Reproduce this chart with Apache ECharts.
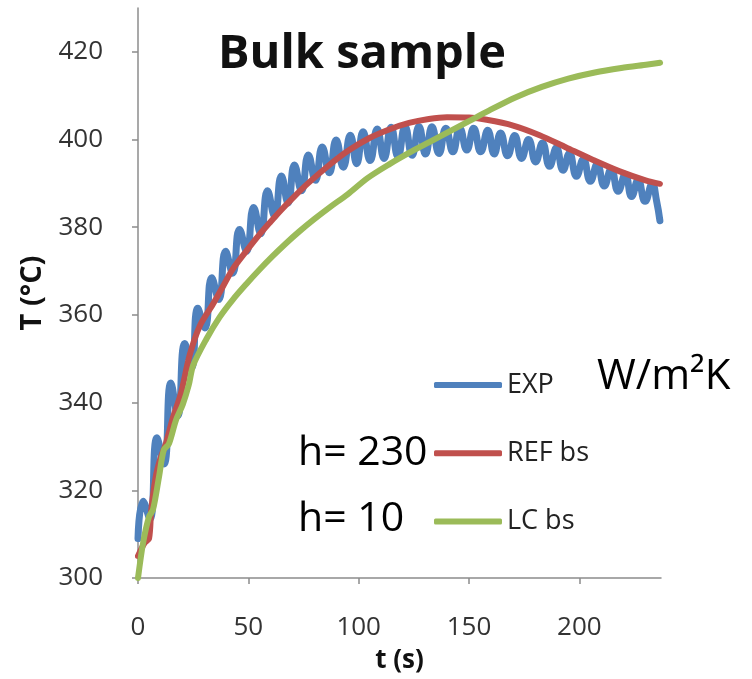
<!DOCTYPE html>
<html>
<head>
<meta charset="utf-8">
<script src="https://cdn.jsdelivr.net/npm/echarts@6/dist/echarts.min.js"></script>
<style>
html,body{margin:0;padding:0;background:#fff;}
#chart{width:752px;height:679px;}
</style>
</head>
<body>
<div id="chart"></div>
<script>
// ---- data ----
const seriesNames = ["EXP", "REF bs", "LC bs"];
const xTicks = [0, 50, 100, 150, 200];
const yTicks = [300, 320, 340, 360, 380, 400, 420];

// measured (oscillating) temperature: [t (s), T (°C)] at alternate peaks and troughs
const expData = [
  [0, 309], [2.3, 317.5], [5.4, 313.5], [8.6, 332], [11.8, 326], [14.9, 344.5],
  [18.0, 337], [21.2, 353.5], [24.3, 348], [27.1, 361.5], [30.3, 357], [33.4, 368.5],
  [36.6, 363.5], [39.7, 374.5], [42.9, 369.5], [46.0, 379.5], [49.2, 374.5], [52.4, 384.5],
  [55.6, 378.5], [58.7, 388.3], [61.9, 382.5], [65.0, 391.7], [68.0, 385.5], [70.9, 394.2],
  [74.1, 388.3], [77.2, 396.5], [80.4, 390.7], [83.5, 398.3], [86.7, 392.4], [89.8, 399.9],
  [93.0, 393.7], [96.2, 401], [99.1, 394.5], [102.0, 401.8], [105.2, 395.2], [108.4, 402.4],
  [111.5, 395.7], [114.7, 402.8], [117.8, 396.1], [121.0, 403], [124.2, 396.4], [127.3, 403],
  [130.3, 396.7], [133.2, 402.9], [136.4, 396.8], [139.5, 402.6], [142.7, 397.2], [145.8, 402.6],
  [149.0, 397.6], [152.1, 402.6], [155.3, 397.2], [158.5, 402.1], [161.4, 396.7], [164.3, 401.5],
  [167.5, 396.3], [170.7, 400.9], [173.8, 395.7], [177.0, 400], [180.2, 394.9], [183.3, 399.2],
  [186.5, 393.9], [189.6, 398.1], [192.6, 393.0], [195.5, 396.9], [198.7, 391.6], [201.8, 395.5],
  [205.0, 390.5], [208.1, 394.4], [211.3, 389.4], [214.4, 393.3], [217.6, 388.2], [220.8, 392.1],
  [223.7, 387.0], [226.6, 390.8], [229.8, 385.9], [233.0, 389.9], [235.0, 386], [236.5, 381.5]
];

// reference model, h = 230 W/m²K
const refData = [
  [0, 305], [3, 308], [5, 309], [6, 315.5], [8, 323], [10, 327], [12.6, 330.6],
  [15.8, 336.5], [19.4, 342], [23.5, 351], [28, 357.5], [34, 362.5], [38.5, 366.5],
  [43, 370.5], [49, 374.5], [55, 378.3], [60, 381.2], [65, 384], [70, 386.6],
  [77, 390], [86.7, 394.2], [95.7, 397.6], [104.7, 400.3], [113.8, 402.3],
  [122.8, 403.8], [131.8, 404.7], [140, 405.1], [150, 405.0], [158, 404.5],
  [170, 403.2], [182, 401], [194, 398.2], [206, 395.4], [218, 392.8],
  [230, 390.7], [236.5, 389.9]
];

// lumped capacitance model, h = 10 W/m²K
const lcData = [
  [0, 300], [2.3, 308], [5, 314], [6.8, 315.6], [9.5, 323], [11.7, 329.2], [14, 330.6],
  [17.2, 336], [20.3, 339.6], [23, 344], [25, 348.5], [31, 354.5], [37, 359.5],
  [43, 363.5], [49, 367], [55, 370.3], [61, 373.4], [67, 376.3], [73, 379],
  [80, 381.9], [87, 384.6], [95, 387.5], [104, 391.2], [114, 394.4], [123, 397],
  [132, 399.4], [141, 401.8], [150, 404.2], [159, 406.6], [171, 409.6], [183, 412.0],
  [195, 413.9], [207, 415.3], [219, 416.3], [231, 417.1], [236.6, 417.5]
];

const colors = ["#4F81BD", "#C0504D", "#9BBB59"];
const FONT = "Open Sans";

const chart = echarts.init(document.getElementById('chart'), null, {renderer: 'canvas'});
chart.setOption({
  animation: false,
  backgroundColor: '#ffffff',
  title: {
    text: 'Bulk sample',
    left: 218, top: 31, padding: 0,
    textStyle: {fontFamily: FONT, fontWeight: 'bold', fontSize: 47, color: '#111'}
  },
  grid: {left: 138, right: 91, top: 8, bottom: 97, containLabel: false},
  legend: {
    orient: 'vertical',
    left: 434, top: 371, padding: 0,
    icon: 'roundRect',
    itemWidth: 68, itemHeight: 6, itemGap: 40.3,
    data: seriesNames,
    textStyle: {fontFamily: FONT, fontSize: 27, lineHeight: 28, color: '#222'}
  },
  xAxis: {
    type: 'value', min: 0, max: 237, interval: 50,
    name: 't (s)', nameLocation: 'middle', nameGap: 70,
    nameTextStyle: {fontFamily: FONT, fontWeight: 'bold', fontSize: 26, color: '#111'},
    axisLine: {show: true, lineStyle: {color: '#8c8c8c', width: 1.5}},
    axisTick: {show: true, inside: false, length: 6, customValues: xTicks, lineStyle: {color: '#8c8c8c', width: 1.5}},
    axisLabel: {customValues: xTicks, margin: 37, fontFamily: FONT, fontSize: 26, color: '#333'},
    splitLine: {show: false}
  },
  yAxis: {
    type: 'value', min: 300, max: 430, interval: 20,
    name: 'T (°C)', nameLocation: 'middle', nameGap: 91, nameRotate: 90,
    nameTextStyle: {fontFamily: FONT, fontWeight: 'bold', fontSize: 29, color: '#111'},
    axisLine: {show: true, lineStyle: {color: '#8c8c8c', width: 1.5}},
    axisTick: {show: true, inside: false, length: 6, customValues: yTicks, lineStyle: {color: '#8c8c8c', width: 1.5}},
    axisLabel: {customValues: yTicks, margin: 35, fontFamily: FONT, fontSize: 26, color: '#333'},
    splitLine: {show: false}
  },
  series: [
    {name: seriesNames[0], type: 'line', data: expData, smooth: 0.5, symbol: 'none',
     lineStyle: {color: colors[0], width: 7, cap: 'round', join: 'round'}, itemStyle: {color: colors[0]}},
    {name: seriesNames[1], type: 'line', data: refData, smooth: 0.3, symbol: 'none',
     lineStyle: {color: colors[1], width: 6, cap: 'round', join: 'round'}, itemStyle: {color: colors[1]}},
    {name: seriesNames[2], type: 'line', data: lcData, smooth: 0.3, symbol: 'none',
     lineStyle: {color: colors[2], width: 6, cap: 'round', join: 'round'}, itemStyle: {color: colors[2]}}
  ],
  graphic: [
    {type: 'text', left: 597, top: 356, style: {text: 'W/m²K', fontFamily: FONT, fontSize: 42, fill: '#000'}},
    {type: 'text', left: 298, top: 433, style: {text: 'h= 230', fontFamily: FONT, fontSize: 41, fill: '#000'}},
    {type: 'text', left: 298, top: 499, style: {text: 'h= 10', fontFamily: FONT, fontSize: 41, fill: '#000'}}
  ]
});
</script>
</body>
</html>
